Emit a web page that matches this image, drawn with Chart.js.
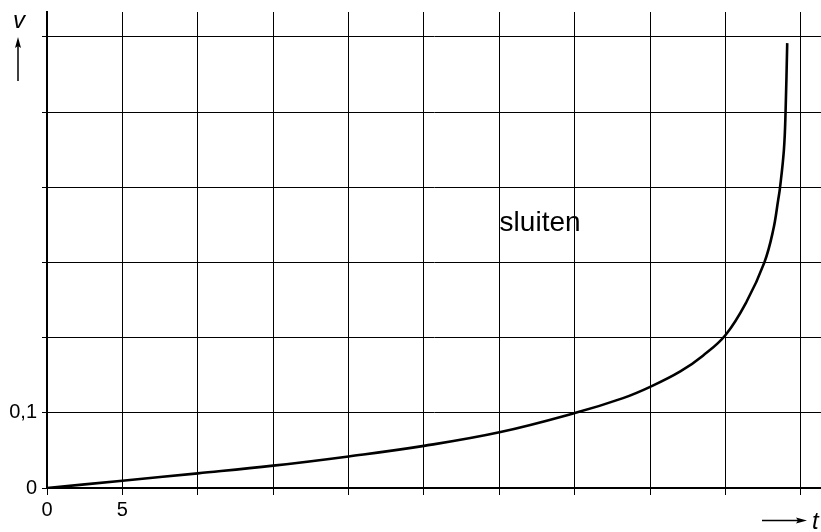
<!DOCTYPE html>
<html>
<head>
<meta charset="utf-8">
<script src="https://cdn.jsdelivr.net/npm/chart.js@4/dist/chart.umd.min.js"></script>
<style>
  html, body { margin: 0; padding: 0; background: #fff; }
  #wrap { width: 821px; height: 532px; }
</style>
</head>
<body>
<div id="wrap"><canvas id="chart" width="821" height="532"></canvas></div>
<script>
// curve: t (horizontal) vs v (vertical)
const tValues = [0, 5, 10, 15, 20, 25, 30, 35, 38.2, 40, 42, 43.5, 45, 46.4, 47.57, 48.16, 48.49, 48.61, 48.87, 48.98, 49.09];
const vValues = [0, 0.0097, 0.0195, 0.0297, 0.042, 0.056, 0.074, 0.0996, 0.1195, 0.1345, 0.155, 0.176, 0.2035, 0.248, 0.2997, 0.343, 0.383, 0.399, 0.4497, 0.500, 0.5916];

const xTicks = [0, 5, 10, 15, 20, 25, 30, 35, 40, 45, 50];
const xTickLabels = ['0', '5', '', '', '', '', '', '', '', '', ''];
const yTicks = [0, 0.1, 0.2, 0.3, 0.4, 0.5, 0.6];
const yTickLabels = ['0', '0,1', '', '', '', '', ''];

const xMax = 51.33;
const yMax = 0.633;

const annotation = { text: 'sluiten', t: 32.7, v: 0.3525 };

const FONT = '"Liberation Sans", Arial, sans-serif';

// axis names with arrows, plus the annotation text
const decorations = {
    id: 'decorations',
    afterDraw(chart) {
        const ctx = chart.ctx;
        const xs = chart.scales.x, ys = chart.scales.y;
        ctx.save();
        ctx.fillStyle = '#000';
        ctx.strokeStyle = '#000';

        // annotation
        ctx.font = '28px ' + FONT;
        ctx.textAlign = 'center';
        ctx.textBaseline = 'middle';
        ctx.fillText(annotation.text, xs.getPixelForValue(annotation.t), ys.getPixelForValue(annotation.v));

        // v label + up arrow
        ctx.font = 'italic 24px ' + FONT;
        ctx.textAlign = 'center';
        ctx.textBaseline = 'alphabetic';
        ctx.fillText('v', 19, 28);
        ctx.lineWidth = 1.5;
        ctx.beginPath();
        ctx.moveTo(18, 81);
        ctx.lineTo(18, 44);
        ctx.stroke();
        ctx.beginPath();
        ctx.moveTo(18, 37);
        ctx.lineTo(21, 48);
        ctx.lineTo(18, 46);
        ctx.lineTo(15, 48);
        ctx.closePath();
        ctx.fill();

        // t label + right arrow
        ctx.textAlign = 'left';
        ctx.fillText('t', 812, 529);
        ctx.beginPath();
        ctx.moveTo(762, 520.5);
        ctx.lineTo(800, 520.5);
        ctx.stroke();
        ctx.beginPath();
        ctx.moveTo(807, 520.5);
        ctx.lineTo(796, 517.5);
        ctx.lineTo(798, 520.5);
        ctx.lineTo(796, 523.5);
        ctx.closePath();
        ctx.fill();
        ctx.restore();
    }
};

const points = tValues.map((t, i) => ({ x: t, y: vValues[i] }));

new Chart(document.getElementById('chart'), {
    type: 'line',
    data: {
        datasets: [{
            data: points,
            borderColor: '#000',
            borderWidth: 2.6,
            pointRadius: 0,
            tension: 0.4,
            fill: false
        }]
    },
    options: {
        responsive: false,
        animation: false,
        layout: { padding: { top: 12, left: 0, right: 0, bottom: 0 } },
        plugins: { legend: { display: false }, tooltip: { enabled: false } },
        scales: {
            x: {
                type: 'linear',
                min: 0,
                max: xMax,
                afterBuildTicks: s => { s.ticks = xTicks.map(v => ({ value: v })); },
                afterFit: s => { s.height = 44; s.paddingLeft = 0; s.paddingRight = 0; },
                grid: { color: '#000', lineWidth: 1, tickLength: 7, tickColor: '#000' },
                border: { color: '#000', width: 2 },
                ticks: {
                    autoSkip: false,
                    maxRotation: 0,
                    padding: 3,
                    color: '#000',
                    font: { family: FONT, size: 20 },
                    callback: (val, i) => xTickLabels[i]
                }
            },
            y: {
                type: 'linear',
                min: 0,
                max: yMax,
                afterBuildTicks: s => { s.ticks = yTicks.map(v => ({ value: v })); },
                afterFit: s => { s.width = 47; s.paddingTop = 0; s.paddingBottom = 0; },
                grid: { color: '#000', lineWidth: 1, tickLength: 5, tickColor: '#000' },
                border: { color: '#000', width: 2 },
                ticks: {
                    autoSkip: false,
                    padding: 5,
                    color: '#000',
                    font: { family: FONT, size: 20 },
                    callback: (val, i) => yTickLabels[i]
                }
            }
        }
    },
    plugins: [decorations]
});
</script>
</body>
</html>
